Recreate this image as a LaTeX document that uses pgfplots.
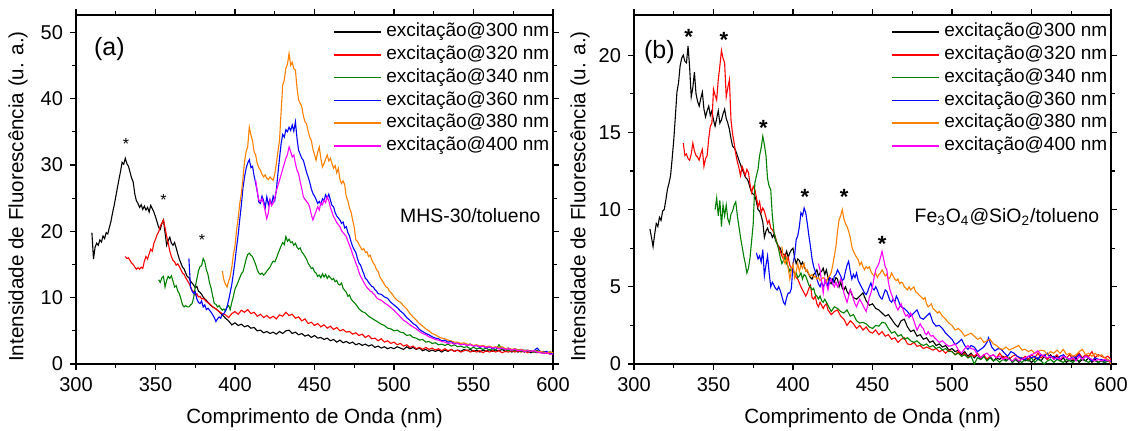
\documentclass[border=0pt]{standalone}
\usepackage{fontspec}
\setmainfont{Liberation Sans}
\usepackage{pgfplots}
\pgfplotsset{compat=1.18}
\definecolor{cgreen}{RGB}{0,128,0}
\definecolor{corange}{RGB}{255,128,0}
\definecolor{cred}{RGB}{255,0,0}
\definecolor{cblue}{RGB}{0,0,255}
\definecolor{cmag}{RGB}{255,0,255}
\pgfplotsset{
 specax/.style={
  scale only axis, width=238.5pt, height=174.5pt,
  xmin=300, xmax=600, xtick={300,350,...,600}, minor x tick num=1, minor y tick num=1,
  tick align=outside, major tick length=3pt, minor tick length=1.8pt,
  axis line style={line width=0.6pt}, every tick/.style={line width=0.6pt, black},
  tick label style={font=\fontsize{10}{12}\selectfont},
  /pgf/number format/assume math mode=true,
  label style={font=\fontsize{10.3}{12}\selectfont},
  xlabel={Comprimento de Onda (nm)},
  ylabel={Intensidade de Fluorescência (u. a.)},
  xlabel style={at={(axis description cs:0.5,-0.155)}, anchor=center},
  legend cell align=left,
  legend style={draw=none, fill=none, inner sep=0pt, font=\fontsize{9.5}{11.4}\selectfont,
    nodes={text height=6.9pt, text depth=2.2pt, inner sep=1.15pt}, row sep=0pt, column sep=1pt,
    at={(axis description cs:0.998,0.985)}, anchor=north east},
  legend image code/.code={\draw[#1, line width=0.75pt] (0pt,0pt) -- (23.5pt,0pt);},
  every axis plot/.append style={line width=0.55pt},
 },
}
\begin{document}
\begin{tikzpicture}
\begin{axis}[specax, ymin=0, ymax=52.6, ytick={0,10,...,50},
  ylabel style={at={(axis description cs:-0.1216,0.48)}, anchor=center}]
% 300
\addplot[black] coordinates {(310,19.8)(311,15.8)(312,17.6)(313,18.2)(314,17.9)(315,18.7)(316,18.4)(317,19.3)(318,18.9)(319,19.8)(320,19.6)(321,20.6)(322,21.5)(323,22.8)(324,23.9)(325,25.2)(326,26.5)(327,27.8)(328,29.0)(329,30.4)(330,30.1)(331,31.0)(332,30.2)(333,29.8)(334,28.9)(335,28.0)(336,27.4)(337,25.6)(338,24.6)(339,24.2)(340,23.6)(341,24.0)(342,23.3)(343,23.8)(344,23.2)(345,23.6)(346,22.9)(347,23.9)(348,23.4)(349,22.9)(350,22.2)(351,21.4)(352,20.6)(353,20.3)(354,21.2)(355,21.7)(356,19.8)(357,17.9)(358,18.6)(359,19.1)(360,18.2)(361,17.9)(362,18.3)(363,17.5)(364,16.6)(365,15.8)(366,15.2)(367,14.6)(368,14.3)(369,13.7)(370,13.2)(371,13.0)(372,12.5)(373,12.2)(374,11.9)(375,11.5)(376,11.7)(377,11.0)(378,10.8)(379,10.5)(380,10.1)(381,9.8)(382,9.6)(384,9.0)(386,8.6)(388,8.3)(390,7.9)(392,7.4)(394,6.9)(396,6.5)(398,5.9)(400,6.2)(402,5.8)(404,6.0)(406,5.6)(408,5.8)(410,5.4)(412,5.5)(414,5.0)(416,5.1)(418,4.7)(420,4.9)(422,4.6)(424,4.8)(426,4.5)(428,4.9)(430,4.6)(432,5.0)(434,5.1)(436,4.6)(438,4.8)(440,4.4)(442,4.6)(444,4.2)(446,4.4)(448,4.0)(450,4.3)(452,3.9)(454,4.0)(456,3.7)(458,3.9)(460,3.5)(462,3.7)(464,3.3)(466,3.6)(468,3.2)(470,3.4)(472,3.1)(474,3.3)(476,2.9)(478,3.1)(480,2.8)(482,3.0)(484,2.7)(486,2.9)(488,2.5)(490,2.7)(492,2.4)(494,2.6)(496,2.3)(498,2.5)(500,2.3)(502,2.6)(504,2.4)(506,2.2)(508,2.6)(510,2.3)(512,2.5)(514,2.2)(516,2.4)(518,2.0)(520,2.2)(522,1.9)(524,2.1)(526,1.9)(528,2.1)(530,1.8)(532,2.1)(534,1.9)(536,2.2)(538,1.9)(540,2.1)(542,1.9)(544,2.2)(546,2.0)(548,2.2)(550,1.9)(552,2.1)(554,1.8)(556,2.1)(558,1.9)(560,2.2)(562,1.9)(564,2.1)(566,2.0)(568,2.2)(570,1.9)(572,2.1)(574,1.8)(576,2.0)(578,1.8)(580,2.0)(582,1.8)(584,2.0)(586,1.7)(588,1.9)(590,1.7)(592,1.8)(594,1.6)(596,1.8)(598,1.5)(600,1.6)};
\addlegendentry{excitação@300 nm}
% 320
\addplot[cred] coordinates {(331,16.2)(332,15.9)(333,16.0)(334,15.6)(335,15.2)(336,15.0)(337,14.6)(338,14.3)(339,14.5)(340,14.3)(341,14.6)(342,14.4)(343,15.5)(344,16.2)(345,15.8)(346,16.6)(347,17.3)(348,17.0)(349,18.2)(350,18.8)(351,19.5)(352,19.9)(353,20.8)(354,21.2)(355,21.7)(356,20.5)(357,19.3)(358,18.2)(359,17.0)(360,16.2)(361,15.6)(362,15.4)(363,14.9)(364,15.1)(365,14.7)(366,14.2)(367,13.7)(368,13.5)(369,13.0)(370,12.6)(371,12.2)(372,11.7)(373,11.1)(374,10.9)(375,10.4)(376,10.6)(377,10.1)(378,10.2)(379,9.8)(380,9.9)(382,9.4)(384,9.1)(386,8.6)(388,8.3)(390,7.9)(392,7.6)(394,7.4)(396,7.0)(398,7.6)(400,7.9)(402,7.5)(404,8.1)(406,7.8)(408,8.2)(410,7.6)(412,7.8)(414,7.2)(416,7.5)(418,7.0)(420,7.3)(422,6.9)(424,7.2)(426,6.8)(428,7.4)(430,7.2)(432,7.8)(434,7.3)(436,7.5)(438,6.9)(440,7.1)(442,6.5)(444,6.8)(446,6.1)(448,6.3)(450,5.8)(452,6.1)(454,5.6)(456,5.9)(458,5.4)(460,5.7)(462,5.2)(464,5.5)(466,5.0)(468,5.2)(470,4.8)(472,4.9)(474,4.5)(476,4.7)(478,4.3)(480,4.5)(482,4.0)(484,4.3)(486,3.8)(488,3.9)(490,3.5)(492,3.8)(494,3.3)(496,3.5)(498,3.1)(500,3.3)(502,2.9)(504,3.1)(506,2.7)(508,2.9)(510,2.5)(512,2.7)(514,2.3)(516,2.5)(518,2.2)(520,2.5)(522,2.2)(524,2.4)(526,2.1)(528,2.3)(530,2.0)(532,2.3)(534,2.0)(536,2.2)(538,1.9)(540,2.1)(542,1.8)(544,2.0)(546,2.1)(548,1.8)(550,2.0)(552,1.8)(554,2.0)(556,1.7)(558,2.0)(560,1.8)(562,2.0)(564,1.8)(566,2.0)(568,1.7)(570,1.9)(572,1.8)(574,2.0)(576,1.8)(578,2.0)(580,1.8)(582,2.0)(584,1.7)(586,2.0)(588,1.8)(590,2.0)(592,1.7)(594,1.9)(596,1.6)(598,1.8)(600,1.7)};
\addlegendentry{excitação@320 nm}
% 340
\addplot[cgreen] coordinates {(352,12.7)(353,12.3)(354,13.0)(355,13.2)(356,11.6)(357,12.6)(358,13.2)(359,12.9)(360,13.3)(361,12.5)(362,11.6)(363,11.8)(364,11.0)(365,10.6)(366,9.8)(367,8.9)(368,8.6)(369,8.8)(370,8.6)(371,8.6)(372,8.9)(373,9.1)(374,10.0)(375,11.6)(376,12.8)(377,14.0)(378,14.7)(379,14.8)(380,15.9)(381,15.4)(382,14.2)(383,13.5)(384,12.2)(385,11.4)(386,10.2)(387,9.1)(388,9.0)(389,8.6)(390,8.8)(391,8.4)(392,8.1)(393,8.3)(394,8.0)(395,8.6)(396,8.8)(397,8.2)(398,9.3)(399,10.2)(400,11.3)(401,11.8)(402,12.4)(403,13.0)(404,13.6)(405,13.9)(406,14.8)(407,15.8)(408,16.5)(409,16.7)(410,16.4)(411,16.2)(412,15.6)(413,15.0)(414,14.2)(415,13.7)(416,13.5)(417,13.7)(418,13.4)(419,13.6)(420,14.0)(421,14.3)(422,14.6)(423,15.1)(424,15.5)(425,15.4)(426,15.9)(427,16.6)(428,17.2)(429,17.8)(430,18.3)(431,18.0)(432,19.2)(433,18.5)(434,18.8)(435,18.3)(436,18.4)(437,17.9)(438,18.2)(439,17.6)(440,17.3)(441,17.5)(442,16.9)(443,16.6)(444,16.2)(445,15.8)(446,15.2)(447,14.8)(448,14.4)(449,14.5)(450,13.9)(451,13.7)(452,13.2)(453,13.4)(454,13.0)(455,13.6)(456,13.1)(457,13.5)(458,12.9)(459,13.3)(460,13.0)(461,12.7)(462,12.9)(463,12.4)(464,12.6)(465,12.0)(466,11.9)(467,12.2)(468,11.4)(469,11.1)(470,10.8)(471,10.2)(472,10.4)(473,9.8)(474,9.5)(476,9.0)(478,8.3)(480,7.9)(482,7.7)(484,7.2)(486,6.9)(488,6.6)(490,6.3)(492,6.0)(494,5.8)(496,5.4)(498,5.3)(500,5.0)(502,5.1)(504,4.8)(506,4.7)(508,4.3)(510,4.4)(512,4.0)(514,3.9)(516,3.6)(518,3.7)(520,3.3)(522,3.4)(524,3.1)(526,3.2)(528,2.9)(530,3.0)(532,2.8)(534,3.0)(536,2.7)(538,2.9)(540,2.6)(542,2.7)(544,2.5)(546,2.6)(548,2.3)(550,2.5)(552,2.3)(554,2.4)(556,2.2)(558,2.4)(560,2.1)(562,2.3)(564,2.1)(566,2.9)(568,2.2)(570,2.2)(572,2.0)(574,2.2)(576,2.0)(578,2.1)(580,1.9)(582,2.1)(584,1.9)(586,2.0)(588,1.8)(590,2.0)(592,1.8)(594,1.9)(596,1.7)(598,1.8)(600,1.7)};
\addlegendentry{excitação@340 nm}
% 360
\addplot[cblue] coordinates {(371,15.9)(372,11.6)(373,11.0)(374,10.6)(375,10.9)(376,9.8)(377,9.3)(378,9.1)(379,9.5)(380,8.6)(381,8.9)(382,8.2)(383,8.4)(384,8.1)(385,7.8)(386,7.4)(387,7.0)(388,6.4)(389,6.8)(390,7.1)(391,6.9)(392,7.5)(393,7.6)(394,8.0)(395,8.6)(396,9.6)(397,10.8)(398,12.0)(399,13.7)(400,15.5)(401,17.6)(402,19.5)(403,21.8)(404,24.0)(405,26.5)(406,28.2)(407,29.5)(408,30.3)(409,30.8)(410,29.6)(411,29.8)(412,28.4)(413,27.2)(414,26.0)(415,24.4)(416,24.2)(417,25.3)(418,24.6)(419,23.6)(420,25.2)(421,24.0)(422,24.8)(423,24.0)(424,25.3)(425,24.6)(426,26.2)(427,28.7)(428,31.0)(429,33.2)(430,34.6)(431,34.2)(432,35.3)(433,35.0)(434,35.7)(435,35.2)(436,36.0)(437,35.1)(438,36.5)(439,34.0)(440,32.2)(441,31.6)(442,31.0)(443,30.7)(444,29.8)(445,28.9)(446,28.2)(447,27.4)(448,26.4)(449,25.7)(450,25.3)(451,24.8)(452,24.2)(453,24.5)(454,24.0)(455,24.9)(456,24.6)(457,25.5)(458,25.0)(459,25.6)(460,24.7)(461,23.9)(462,23.7)(463,22.8)(464,22.3)(465,22.0)(466,21.7)(467,21.2)(468,21.4)(469,20.5)(470,20.7)(471,19.8)(472,19.3)(473,18.4)(474,17.7)(475,17.2)(476,16.8)(477,15.9)(478,15.2)(479,14.9)(480,14.2)(481,13.6)(482,12.9)(483,12.7)(484,12.3)(485,12.0)(486,11.7)(487,11.6)(488,11.2)(489,11.0)(490,10.6)(492,10.5)(494,10.1)(496,9.9)(498,9.3)(500,8.9)(502,8.5)(504,8.0)(506,7.6)(508,7.0)(510,6.6)(512,6.1)(514,5.8)(516,5.2)(518,4.9)(520,4.6)(522,4.4)(524,4.1)(526,3.9)(528,3.8)(530,3.5)(532,3.6)(534,3.3)(536,3.4)(538,3.1)(540,3.2)(542,2.9)(544,3.0)(546,2.8)(548,3.0)(550,2.7)(552,2.8)(554,2.5)(556,2.7)(558,2.4)(560,2.6)(562,2.3)(564,2.5)(566,2.3)(568,2.4)(570,2.2)(572,2.4)(574,2.1)(576,2.3)(578,2.1)(580,2.2)(582,2.0)(584,2.1)(586,1.9)(588,2.0)(590,2.4)(592,1.9)(594,1.8)(596,1.9)(598,1.6)(600,1.6)};
\addlegendentry{excitação@360 nm}
% 380
\addplot[corange] coordinates {(392,14.0)(393,12.7)(394,12.0)(395,11.6)(396,12.5)(397,13.2)(398,14.6)(399,16.5)(400,17.8)(401,20.2)(402,22.0)(403,24.2)(404,25.7)(405,28.0)(406,30.5)(407,32.0)(408,32.8)(409,35.7)(410,34.5)(411,33.7)(412,32.0)(413,31.5)(414,30.2)(415,29.6)(416,29.2)(417,28.6)(418,28.2)(419,28.5)(420,28.0)(421,27.8)(422,28.2)(423,27.9)(424,27.7)(425,28.6)(426,30.2)(427,32.0)(428,33.7)(429,38.0)(430,42.0)(431,42.8)(432,44.6)(433,45.2)(434,46.8)(435,45.0)(436,45.5)(437,44.5)(438,44.3)(439,41.6)(440,39.8)(441,39.3)(442,38.8)(443,37.4)(444,36.5)(445,36.2)(446,35.1)(447,34.2)(448,33.7)(449,32.4)(450,31.6)(451,30.7)(452,31.9)(453,32.7)(454,31.0)(455,29.7)(456,30.2)(457,30.9)(458,31.5)(459,30.6)(460,31.0)(461,30.2)(462,29.5)(463,29.9)(464,28.8)(465,29.5)(466,27.8)(467,27.2)(468,27.6)(469,27.0)(470,25.2)(471,24.6)(472,23.5)(473,22.9)(474,21.7)(475,20.6)(476,18.7)(477,18.5)(478,18.0)(479,17.6)(480,17.2)(481,17.4)(482,16.8)(483,16.9)(484,16.2)(485,16.4)(486,15.7)(487,15.2)(488,14.9)(489,14.2)(490,14.0)(491,13.2)(492,12.8)(493,12.4)(494,12.0)(495,11.6)(496,11.5)(497,11.0)(498,10.8)(499,10.5)(500,10.1)(502,9.6)(504,9.3)(506,8.8)(508,8.3)(510,7.6)(512,7.1)(514,6.6)(516,6.1)(518,5.7)(520,5.3)(522,5.0)(524,4.6)(526,4.4)(528,4.1)(530,3.9)(532,3.8)(534,3.6)(536,3.5)(538,3.3)(540,3.3)(542,3.1)(544,3.2)(546,3.0)(548,3.0)(550,2.8)(552,2.9)(554,2.7)(556,2.8)(558,2.6)(560,2.7)(562,2.5)(564,2.6)(566,2.5)(568,2.6)(570,2.3)(572,2.4)(574,2.2)(576,2.3)(578,2.1)(580,2.2)(582,2.0)(584,2.1)(586,1.9)(588,2.0)(590,1.8)(592,1.9)(594,1.8)(596,1.7)(598,1.8)(600,1.7)};
\addlegendentry{excitação@380 nm}
% 400
\addplot[cmag] coordinates {(413,27.7)(414,26.0)(415,24.7)(416,24.5)(417,24.9)(418,24.2)(419,23.0)(420,21.9)(421,22.8)(422,24.7)(423,23.9)(424,24.2)(425,25.0)(426,26.1)(427,26.9)(428,27.7)(429,28.5)(430,29.4)(431,30.2)(432,31.0)(433,31.6)(434,32.7)(435,32.0)(436,31.2)(437,31.5)(438,30.2)(439,29.2)(440,28.7)(441,27.5)(442,26.4)(443,25.2)(444,24.8)(445,24.5)(446,24.2)(447,23.6)(448,22.5)(449,21.7)(450,22.4)(451,23.0)(452,23.7)(453,23.2)(454,24.3)(455,24.0)(456,24.7)(457,24.3)(458,25.2)(459,24.6)(460,23.6)(461,22.9)(462,22.2)(463,21.8)(464,21.3)(465,21.0)(466,20.7)(467,20.1)(468,19.8)(469,19.5)(470,19.2)(471,18.5)(472,17.9)(473,17.3)(474,16.5)(475,15.9)(476,15.2)(477,14.6)(478,13.8)(479,13.2)(480,12.8)(481,12.3)(482,11.9)(483,11.5)(484,11.3)(485,11.0)(486,10.9)(487,10.6)(488,10.4)(489,10.0)(490,9.8)(492,9.6)(494,9.2)(496,8.9)(498,8.5)(500,8.1)(502,7.6)(504,7.1)(506,6.6)(508,6.3)(510,5.9)(512,5.6)(514,5.3)(516,4.9)(518,4.6)(520,4.4)(522,4.1)(524,3.9)(526,3.7)(528,3.6)(530,3.4)(532,3.3)(534,3.1)(536,3.2)(538,3.0)(540,3.1)(542,2.9)(544,3.0)(546,2.8)(548,2.9)(550,2.7)(552,2.8)(554,2.6)(556,2.7)(558,2.5)(560,2.6)(562,2.4)(564,2.5)(566,2.3)(568,2.4)(570,2.2)(572,2.3)(574,2.1)(576,2.2)(578,2.0)(580,2.1)(582,1.9)(584,2.0)(586,1.9)(588,2.0)(590,1.8)(592,1.7)(594,1.6)(596,1.7)(598,1.5)(600,1.5)};
\addlegendentry{excitação@400 nm}
\node[font=\fontsize{12.5}{14}\selectfont] at (axis cs:321,47.4) {(a)};
\node[anchor=east, font=\fontsize{9.7}{12}\selectfont] at (axis cs:596.5,22.4) {MHS-30/tolueno};
\node[font=\fontsize{8}{9}\selectfont, yshift=-1.6pt] at (axis cs:331.4,33.7) {*};
\node[font=\fontsize{8}{9}\selectfont, yshift=-1.6pt] at (axis cs:355,25.2) {*};
\node[font=\fontsize{8}{9}\selectfont, yshift=-1.6pt] at (axis cs:379.2,19.1) {*};
\end{axis}

\begin{axis}[specax, xshift=279pt, ymin=0, ymax=22.6, ytick={0,5,...,20},
  ylabel style={at={(axis description cs:-0.113,0.48)}, anchor=center}]
% 300
\addplot[black] coordinates {(310,8.75)(311,8.2)(312,7.6)(313,8.4)(314,9.1)(315,8.9)(316,9.5)(317,9.3)(318,9.9)(319,10.0)(320,10.6)(321,11.3)(322,11.7)(323,12.2)(324,13.3)(325,14.5)(326,16.0)(327,17.6)(328,18.2)(329,19.3)(330,19.8)(331,20.0)(332,19.6)(333,19.5)(334,20.6)(335,19.2)(336,17.3)(337,17.9)(338,18.9)(339,17.5)(340,17.0)(341,16.7)(342,17.2)(343,17.6)(344,16.5)(345,16.0)(346,16.4)(347,16.7)(348,16.1)(349,16.4)(350,15.8)(351,15.4)(352,15.9)(353,16.4)(354,15.6)(355,15.8)(356,16.2)(357,16.5)(358,15.9)(359,15.6)(360,15.2)(361,14.6)(362,14.1)(363,14.0)(364,13.8)(365,13.5)(366,13.2)(367,12.9)(368,12.6)(369,12.4)(370,12.1)(371,12.0)(372,11.8)(373,11.4)(374,11.1)(375,11.0)(376,10.9)(377,10.5)(378,10.0)(379,9.9)(380,9.6)(381,9.2)(382,8.2)(383,8.6)(384,8.8)(385,8.5)(386,8.5)(387,8.2)(388,8.4)(389,8.0)(390,7.8)(391,7.6)(392,7.5)(393,7.2)(394,7.1)(395,7.0)(396,7.3)(397,6.9)(398,7.2)(399,7.4)(400,7.5)(401,6.9)(402,6.5)(403,6.8)(404,6.7)(405,6.4)(406,6.6)(407,6.3)(408,6.1)(409,6.0)(410,5.8)(411,5.6)(412,5.5)(413,5.8)(414,5.9)(415,6.1)(416,5.7)(417,5.9)(418,6.0)(419,6.2)(420,5.8)(421,6.1)(422,5.6)(423,5.3)(424,5.2)(425,5.5)(426,5.3)(427,5.6)(428,5.5)(429,5.0)(430,5.3)(431,4.9)(432,4.8)(433,5.0)(434,4.7)(435,4.5)(436,4.8)(437,4.5)(438,4.3)(440,4.2)(442,4.4)(444,4.6)(446,4.1)(448,3.8)(450,3.9)(452,3.6)(454,3.5)(456,3.3)(458,3.1)(460,3.2)(462,2.9)(464,2.6)(466,2.4)(468,2.8)(470,2.9)(472,2.4)(474,2.1)(476,2.2)(478,1.8)(480,1.9)(482,1.6)(484,1.7)(486,1.4)(488,1.5)(490,1.2)(492,1.3)(494,1.1)(496,1.2)(498,0.9)(500,1.0)(502,0.8)(504,0.9)(506,0.6)(508,0.8)(510,0.5)(512,0.7)(514,0.4)(516,0.6)(518,0.3)(520,0.5)(522,0.3)(524,0.5)(526,0.2)(528,0.4)(530,0.3)(532,0.5)(534,0.2)(536,0.4)(538,0.1)(540,0.3)(542,0.1)(544,0.4)(546,0.2)(548,0.3)(550,0.1)(552,0.3)(554,0.4)(556,0.2)(558,0.5)(560,0.3)(562,0.6)(564,0.3)(566,0.5)(568,0.2)(570,0.4)(572,0.1)(574,0.3)(576,0.2)(578,0.4)(580,0.1)(582,0.3)(584,0.2)(586,0.4)(588,0.1)(590,0.3)(592,0.1)(594,0.2)(596,0.1)(598,0.2)(600,0.1)};
\addlegendentry{excitação@300 nm}
% 320
\addplot[cred] coordinates {(331,14.3)(332,13.5)(333,13.6)(334,13.3)(335,13.2)(336,13.6)(337,14.3)(338,13.8)(339,13.5)(340,13.4)(341,13.2)(342,13.6)(343,13.9)(344,12.8)(345,13.3)(346,13.5)(347,14.6)(348,15.4)(349,15.6)(350,17.8)(351,17.4)(352,17.1)(353,18.4)(354,19.3)(355,20.3)(356,19.8)(357,19.5)(358,17.3)(359,17.9)(360,18.4)(361,15.8)(362,14.9)(363,14.3)(364,13.6)(365,13.1)(366,12.7)(367,12.2)(368,12.8)(369,12.5)(370,12.2)(371,12.6)(372,12.4)(373,11.6)(374,11.1)(375,11.5)(376,11.3)(377,10.8)(378,10.2)(379,10.5)(380,9.8)(381,10.1)(382,9.9)(383,9.5)(384,9.1)(385,9.3)(386,8.8)(387,8.7)(388,8.5)(389,8.2)(390,7.8)(391,7.6)(392,7.3)(393,7.0)(394,6.8)(395,7.1)(396,6.7)(397,6.9)(398,6.4)(399,6.2)(400,6.1)(401,5.9)(402,5.6)(403,5.5)(404,5.25)(405,5.0)(406,4.8)(407,4.6)(408,4.4)(409,4.6)(410,4.9)(411,5.1)(412,4.3)(413,4.2)(414,4.4)(415,3.9)(416,3.7)(417,4.0)(418,3.8)(419,3.6)(420,3.8)(421,3.9)(422,3.5)(424,3.2)(426,3.4)(428,3.5)(430,3.1)(432,2.9)(434,2.5)(436,2.8)(438,2.6)(440,2.3)(442,2.5)(444,2.2)(446,2.4)(448,2.1)(450,2.0)(452,2.2)(454,1.9)(456,2.1)(458,1.8)(460,1.9)(462,1.6)(464,1.7)(466,1.4)(468,1.6)(470,1.7)(472,1.3)(474,1.25)(476,1.4)(478,1.15)(480,1.2)(482,1.0)(484,1.1)(486,1.0)(488,0.9)(490,1.0)(492,0.8)(494,0.9)(496,0.7)(498,0.9)(500,0.8)(502,0.6)(504,0.8)(506,0.5)(508,0.7)(510,0.4)(512,0.6)(514,0.5)(516,0.7)(518,0.4)(520,0.6)(522,0.3)(524,0.5)(526,0.6)(528,0.4)(530,0.7)(532,0.4)(534,0.5)(536,0.3)(538,0.5)(540,0.6)(542,0.4)(544,0.3)(546,0.5)(548,0.3)(550,0.6)(552,0.4)(554,0.7)(556,0.4)(558,0.6)(560,0.3)(562,0.5)(564,0.4)(566,0.6)(568,0.3)(570,0.5)(572,0.4)(574,0.6)(576,0.3)(578,0.5)(580,0.7)(582,0.4)(584,0.6)(586,0.5)(588,0.8)(590,0.4)(592,0.6)(594,0.5)(596,0.4)(598,0.5)(600,0.3)};
\addlegendentry{excitação@320 nm}
% 340
\addplot[cgreen] coordinates {(351,10.0)(352,10.75)(353,9.6)(354,10.6)(355,8.9)(356,10.3)(357,9.6)(358,10.3)(359,9.4)(360,9.1)(361,9.7)(362,9.9)(363,10.3)(364,10.5)(365,9.6)(366,8.9)(367,8.2)(368,7.6)(369,7.0)(370,6.5)(371,5.9)(372,6.2)(373,6.9)(374,8.0)(375,9.1)(376,11.7)(377,12.2)(378,12.6)(379,13.5)(380,14.0)(381,14.75)(382,14.2)(383,13.5)(384,12.0)(385,11.5)(386,11.3)(387,9.6)(388,8.6)(389,8.1)(390,7.8)(391,7.4)(392,6.9)(393,6.5)(394,6.7)(395,6.9)(396,6.5)(397,6.3)(398,6.0)(399,6.2)(400,6.1)(401,5.8)(402,5.9)(403,5.6)(404,5.7)(405,5.9)(406,5.5)(407,5.8)(408,5.7)(409,5.4)(410,5.1)(411,5.0)(412,4.8)(413,4.9)(414,4.5)(415,4.4)(416,4.2)(417,4.4)(418,4.1)(419,4.0)(420,4.2)(421,4.0)(422,3.8)(424,3.4)(426,3.7)(428,3.6)(430,3.4)(432,3.3)(434,3.5)(436,3.1)(438,3.2)(440,2.8)(442,2.65)(444,2.7)(446,2.6)(448,2.4)(450,2.3)(452,2.5)(454,2.45)(456,2.7)(458,2.65)(460,2.3)(462,2.0)(464,2.1)(466,1.8)(468,1.9)(470,1.6)(472,1.7)(474,1.5)(476,1.4)(478,1.5)(480,1.3)(482,1.2)(484,1.3)(486,1.1)(488,1.2)(490,1.0)(492,1.1)(494,0.9)(496,1.0)(498,0.8)(500,0.8)(502,0.6)(504,0.7)(506,0.5)(508,0.6)(510,0.4)(512,0.5)(514,0.0)(516,0.4)(518,0.3)(520,0.5)(522,0.2)(524,0.4)(526,0.2)(528,0.3)(530,0.1)(532,0.3)(534,0.2)(536,0.4)(538,0.1)(540,0.3)(542,0.2)(544,0.1)(546,0.3)(548,0.2)(550,0.4)(552,0.1)(554,0.3)(556,0.2)(558,0.0)(560,0.2)(562,0.3)(564,0.1)(566,0.3)(568,0.2)(570,0.1)(572,0.3)(574,0.2)(576,0.1)(578,0.3)(580,0.2)(582,0.4)(584,0.2)(586,0.1)(588,0.3)(590,0.2)(592,0.1)(594,0.2)(596,0.1)(598,0.2)(600,0.1)};
\addlegendentry{excitação@340 nm}
% 360
\addplot[cblue] coordinates {(377,7.2)(378,6.8)(379,7.0)(380,6.6)(381,7.4)(382,5.7)(383,6.4)(384,7.0)(385,5.9)(386,5.0)(387,5.3)(388,5.1)(389,4.9)(390,4.8)(391,5.0)(392,4.75)(393,4.4)(394,4.0)(395,3.85)(396,4.3)(397,4.6)(398,4.6)(399,4.9)(400,6.5)(401,7.0)(402,8.05)(403,8.3)(404,8.9)(405,9.8)(406,9.6)(407,10.1)(408,9.8)(409,9.1)(410,8.3)(411,7.6)(412,6.8)(413,6.3)(414,6.0)(415,5.5)(416,5.2)(417,5.0)(418,5.3)(419,5.0)(420,5.2)(421,5.4)(422,5.0)(423,5.6)(424,5.5)(425,5.2)(426,5.7)(427,5.8)(428,6.1)(429,5.9)(430,5.7)(431,5.4)(432,5.5)(433,6.0)(434,6.4)(435,6.65)(436,6.0)(437,5.5)(438,5.8)(439,5.6)(440,5.9)(441,5.4)(442,5.2)(443,5.0)(444,4.8)(445,4.6)(446,4.5)(447,4.7)(448,5.0)(449,5.25)(450,4.9)(451,4.8)(452,5.0)(453,4.8)(454,4.5)(455,4.3)(456,4.2)(457,4.5)(458,4.8)(459,4.7)(460,4.4)(461,4.1)(462,4.0)(463,4.2)(464,4.0)(465,4.4)(466,4.2)(467,3.9)(468,3.7)(470,3.6)(472,3.4)(474,3.1)(476,3.3)(478,3.5)(480,3.0)(482,2.9)(484,3.1)(486,3.3)(488,2.7)(490,2.45)(492,2.5)(494,2.3)(496,2.0)(498,1.8)(500,1.6)(502,1.25)(504,1.4)(506,1.6)(508,1.2)(510,0.95)(512,1.2)(514,1.1)(516,0.8)(518,0.95)(520,1.1)(522,1.4)(523,1.7)(525,1.1)(527,0.85)(529,1.0)(531,0.95)(533,0.7)(535,0.5)(537,0.8)(539,0.7)(541,0.5)(543,0.4)(546,0.3)(548,0.5)(550,0.4)(552,0.5)(554,0.3)(556,0.6)(558,0.5)(560,0.7)(562,0.4)(564,0.5)(566,0.3)(568,0.5)(570,0.6)(572,0.4)(574,0.3)(576,0.5)(578,0.4)(580,0.6)(582,0.3)(584,0.5)(586,0.4)(588,0.2)(590,0.4)(592,0.3)(594,0.3)(596,0.2)(598,0.3)(600,0.1)};
\addlegendentry{excitação@360 nm}
% 380
\addplot[corange] coordinates {(393,7.6)(394,6.8)(395,6.5)(396,6.9)(397,6.2)(398,5.5)(399,6.1)(400,6.5)(401,5.6)(402,6.0)(403,6.5)(404,6.0)(405,6.4)(406,6.2)(407,6.5)(408,6.0)(409,6.1)(410,5.8)(411,5.7)(412,5.8)(413,5.6)(414,5.7)(415,5.5)(416,5.6)(417,5.4)(418,5.5)(419,5.6)(420,5.5)(421,5.3)(422,5.6)(423,5.7)(424,5.9)(425,6.4)(426,7.0)(427,7.6)(428,8.6)(429,9.35)(430,9.6)(431,10.0)(432,9.4)(433,9.1)(434,8.9)(435,8.6)(436,8.2)(437,7.6)(438,7.3)(439,7.1)(440,6.9)(441,6.75)(442,6.4)(443,6.6)(444,6.3)(445,6.1)(446,6.3)(447,6.2)(448,6.3)(449,6.0)(450,5.8)(451,5.7)(452,5.9)(453,5.6)(454,5.8)(455,5.9)(456,6.1)(457,5.9)(458,5.7)(459,5.8)(460,5.5)(461,5.6)(462,5.9)(463,5.7)(464,5.5)(465,5.4)(466,5.5)(467,5.2)(468,5.3)(469,5.25)(470,5.0)(471,4.9)(472,4.8)(473,5.0)(474,4.8)(475,4.9)(476,5.0)(477,4.7)(478,4.6)(479,4.5)(480,4.4)(481,4.3)(482,4.2)(483,4.3)(484,3.9)(485,3.7)(486,3.8)(487,3.9)(488,3.6)(489,3.5)(490,3.4)(491,3.3)(492,3.4)(494,3.1)(496,2.9)(498,2.65)(500,2.5)(502,2.2)(504,2.3)(506,2.1)(508,1.8)(510,1.9)(512,2.0)(514,1.8)(516,1.6)(518,1.7)(520,1.4)(522,1.5)(524,1.6)(526,1.3)(528,1.2)(530,1.0)(532,0.95)(534,1.1)(536,0.9)(538,1.0)(540,1.1)(542,1.2)(544,0.9)(546,0.95)(548,0.8)(550,0.9)(552,0.7)(554,0.8)(556,0.9)(558,0.85)(560,0.6)(562,0.8)(564,0.7)(566,0.9)(568,0.7)(570,0.95)(572,0.6)(574,0.7)(576,0.5)(578,0.6)(580,0.8)(582,0.95)(584,0.6)(586,0.7)(588,0.5)(590,0.7)(592,0.5)(594,0.6)(596,0.4)(598,0.3)(600,0.0)};
\addlegendentry{excitação@380 nm}
% 400
\addplot[cmag] coordinates {(416,6.5)(417,6.1)(418,5.3)(419,4.6)(420,5.5)(421,5.2)(422,4.8)(423,5.3)(424,5.5)(425,5.2)(426,5.0)(427,5.3)(428,5.0)(429,5.2)(430,5.5)(431,5.3)(432,4.6)(433,4.3)(434,4.0)(435,4.4)(436,4.8)(437,4.6)(438,4.2)(439,3.9)(440,3.7)(441,4.0)(442,4.2)(443,4.0)(444,3.8)(445,3.6)(446,3.4)(447,3.8)(448,4.3)(449,4.6)(450,5.0)(451,5.6)(452,6.1)(453,6.3)(454,6.5)(455,6.9)(456,7.3)(457,6.8)(458,6.3)(459,6.1)(460,5.3)(461,4.8)(462,4.5)(463,4.2)(464,4.0)(465,3.7)(466,3.5)(467,3.7)(468,3.9)(469,3.6)(470,3.3)(471,3.1)(472,3.2)(473,3.0)(474,3.3)(475,3.1)(476,2.8)(477,2.5)(478,2.2)(479,2.4)(480,2.6)(481,2.4)(482,2.3)(483,2.0)(484,1.9)(485,2.1)(486,1.9)(487,1.8)(488,1.85)(489,1.7)(490,1.6)(492,1.4)(494,1.5)(496,1.3)(498,1.15)(500,1.2)(502,1.3)(504,0.9)(506,0.7)(508,1.0)(510,1.2)(512,1.0)(514,0.95)(516,0.6)(518,0.4)(520,0.6)(522,0.7)(524,0.5)(526,0.6)(528,0.4)(530,0.5)(532,0.3)(534,0.4)(536,0.3)(538,0.2)(540,0.4)(542,0.2)(544,0.3)(546,0.4)(548,0.5)(550,0.6)(552,0.7)(554,0.85)(556,0.6)(558,0.5)(560,0.4)(562,0.5)(564,0.3)(566,0.4)(568,0.3)(570,0.5)(572,0.4)(574,0.3)(576,0.4)(578,0.2)(580,0.5)(582,0.3)(584,0.5)(586,0.4)(588,0.3)(590,0.2)(592,0.3)(594,0.2)(596,0.3)(598,0.2)(600,0.2)};
\addlegendentry{excitação@400 nm}
\node[font=\fontsize{12.5}{14}\selectfont] at (axis cs:316,20.2) {(b)};
\node[anchor=east, font=\fontsize{9.7}{12}\selectfont] at (axis cs:597,9.5) {Fe\textsubscript{3}O\textsubscript{4}@SiO\textsubscript{2}/tolueno};
\node[font=\bfseries\fontsize{11}{12}\selectfont, yshift=-2.4pt] at (axis cs:334.4,21.5) {*};
\node[font=\bfseries\fontsize{11}{12}\selectfont, yshift=-2.4pt] at (axis cs:356.6,21.3) {*};
\node[font=\bfseries\fontsize{11}{12}\selectfont, yshift=-2.4pt] at (axis cs:381.4,15.6) {*};
\node[font=\bfseries\fontsize{11}{12}\selectfont, yshift=-2.4pt] at (axis cs:407.5,11.1) {*};
\node[font=\bfseries\fontsize{11}{12}\selectfont, yshift=-2.4pt] at (axis cs:432.2,11.1) {*};
\node[font=\bfseries\fontsize{11}{12}\selectfont, yshift=-2.4pt] at (axis cs:456.1,8.1) {*};
\end{axis}
\pgfresetboundingbox
\path[use as bounding box] (-38pt,-33pt) rectangle (528pt,182pt);
\end{tikzpicture}
\end{document}
